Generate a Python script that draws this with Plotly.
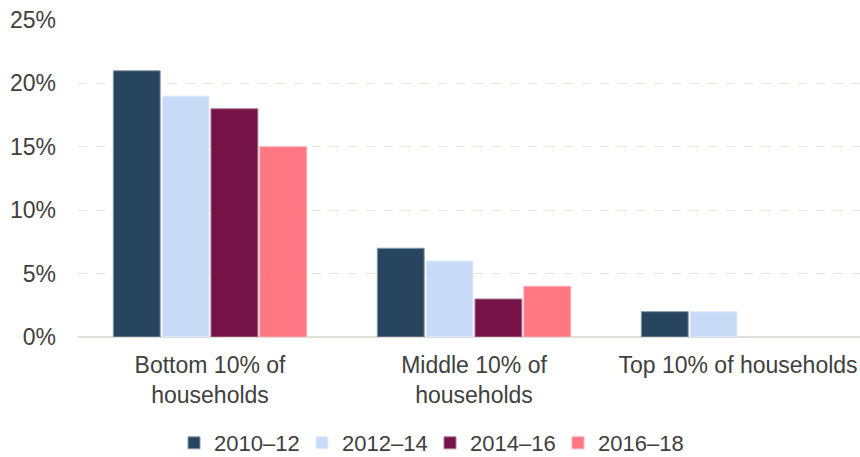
import plotly.graph_objects as go

categories = ["Bottom 10% of<br>households", "Middle 10% of<br>households", "Top 10% of households"]
series_names = ["2010–12", "2012–14", "2014–16", "2016–18"]
v_2010_12 = [21, 7, 2]
v_2012_14 = [19, 6, 2]
v_2014_16 = [18, 3, 0]
v_2016_18 = [15, 4, 0]
y_ticks = [0, 5, 10, 15, 20, 25]
y_tick_labels = ["0%", "5%", "10%", "15%", "20%", "25%"]

colors = ["#27455F", "#C7DBF7", "#761346", "#FF7783"]
outline = ["#8A9AA8", "#E4EDFB", "#B07A96", "#FFB0B6"]
values = [v_2010_12, v_2012_14, v_2014_16, v_2016_18]

fig = go.Figure()
for name, vals, c, oc in zip(series_names, values, colors, outline):
    fig.add_trace(go.Bar(
        x=categories, y=vals, name=name,
        marker=dict(color=c, line=dict(color=oc, width=[0 if v == 0 else 1 for v in vals])),
    ))

font_color = "#404040"
fig.update_layout(
    width=860, height=457,
    margin=dict(l=78, r=0, t=20, b=120, autoexpand=False),
    paper_bgcolor="white", plot_bgcolor="white",
    barmode="group", bargap=0.26, bargroupgap=0.04,
    font=dict(family="Liberation Sans, Arial, sans-serif", color=font_color, size=23),
    showlegend=True,
    legend=dict(orientation="h", x=0.5, xanchor="center", xref="container",
                y=14/457, yanchor="middle", yref="container",
                font=dict(size=22), itemwidth=30, traceorder="normal",
                entrywidth=83, entrywidthmode="pixels"),
)
fig.update_xaxes(
    range=[-0.5, 2.462], showgrid=False, showline=False, zeroline=False,
    tickfont=dict(size=23, color=font_color), ticks="", automargin=False,
    ticklabelstandoff=12,
)
fig.update_yaxes(
    range=[0, 25], tickvals=y_ticks, ticktext=y_tick_labels,
    showgrid=True, gridcolor="#E8E5DC", griddash="dash", gridwidth=1,
    zeroline=True, zerolinecolor="#E0DDD4", zerolinewidth=1.5,
    showline=False, ticks="", ticklabelstandoff=21, automargin=False,
    tickfont=dict(size=23, color=font_color),
)
fig.write_html(
    "out.html",
    config={"displayModeBar": False},
    post_script="document.body.style.margin='0';document.body.style.overflow='hidden';",
)
